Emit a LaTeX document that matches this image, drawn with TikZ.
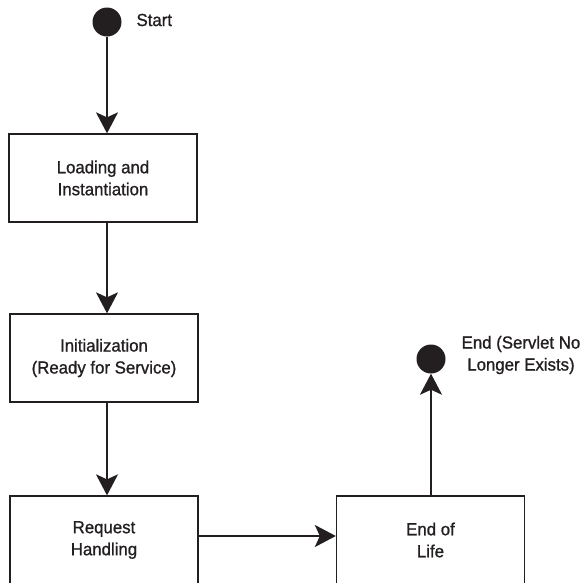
\documentclass[tikz,border=0pt]{standalone}
\usepackage{fontspec}
\setmainfont[FakeBold=1,FakeStretch=0.96]{Liberation Sans}
\usetikzlibrary{arrows.meta}
\definecolor{ink}{HTML}{231F20}
\begin{document}
\begin{tikzpicture}[x=1pt,y=-1pt,
  every node/.style={font=\fontsize{17.5}{22}\selectfont, text=ink},
  statebox/.style={draw=ink, line width=1.3pt, minimum width=188pt, minimum height=88pt, inner sep=0pt, align=center},
  dot/.style={circle, fill=ink, minimum size=29pt, inner sep=0pt},
  flow/.style={draw=ink, line width=2pt, -{Stealth[length=21pt, width=22pt, inset=5pt]}}]
\path[use as bounding box, clip] (0,0) rectangle (584,582);
\fill[white] (0,0) rectangle (584,582);
\node[dot] (start) at (107,22) {};
\node[anchor=west] (starttxt) at (133,20) {Start};
\node[statebox] (b1) at (103,178) {Loading and\\Instantiation};
\node[statebox] (b2) at (104,358) {Initialization\\(Ready for Service)};
\node[statebox] (b3) at (104,540) {Request\\Handling};
\node[statebox] (b4) at (430.5,540) {End of\\Life};
\node[dot] (endc) at (431,359) {};
\node[align=center] (endtxt) at (521,355) {End (Servlet No\\Longer Exists)};
\draw[flow] (start.south) -- (start.south |- b1.north);
\draw[flow] (start.south |- b1.south) -- (start.south |- b2.north);
\draw[flow] (start.south |- b2.south) -- (start.south |- b3.north);
\draw[flow] ([yshift=4pt]b3.east) -- ([yshift=4pt]b4.west);
\draw[flow] (endc.south |- b4.north) -- (endc.south);
\end{tikzpicture}
\end{document}
